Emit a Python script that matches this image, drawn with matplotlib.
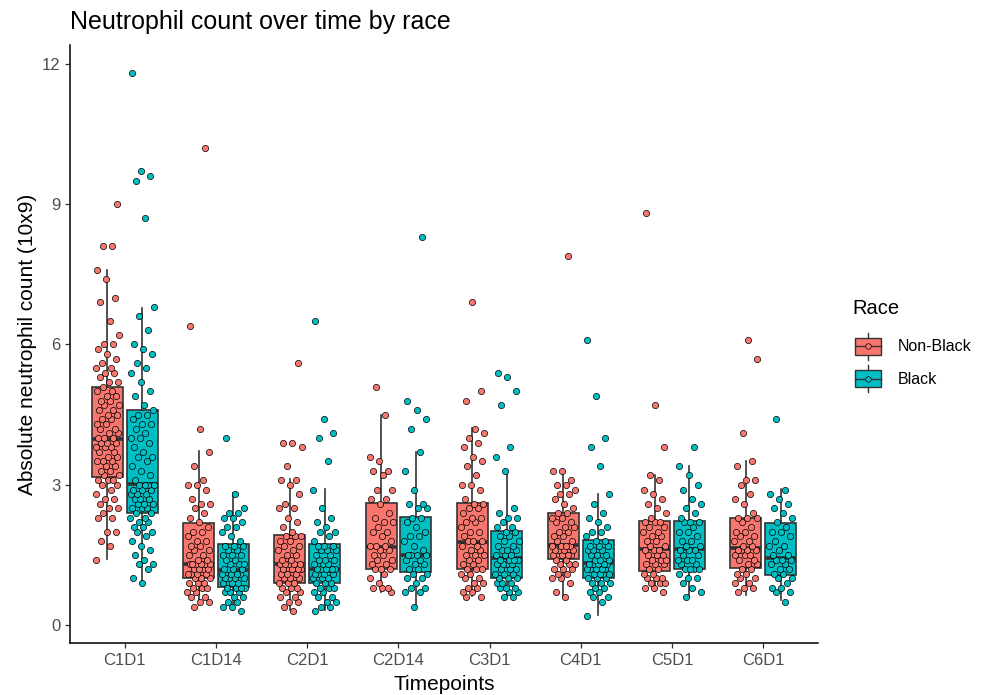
import matplotlib
matplotlib.use("Agg")
import matplotlib.pyplot as plt
import numpy as np
from matplotlib.legend_handler import HandlerBase
from matplotlib.patches import Rectangle, Patch
from matplotlib.lines import Line2D

plt.rcParams['font.family'] = ['Liberation Sans', 'DejaVu Sans']

timepoints = ['C1D1', 'C1D14', 'C2D1', 'C2D14', 'C3D1', 'C4D1', 'C5D1', 'C6D1']
races = ['Non-Black', 'Black']
race_colors = ['#F8766D', '#00BFC4']

# box statistics (per timepoint)
nb_q1 = [3.16, 1.01, 0.91, 1.21, 1.21, 1.41, 1.16, 1.23]
nb_med = [3.99, 1.30, 1.30, 1.67, 1.78, 1.72, 1.62, 1.64]
nb_q3 = [5.10, 2.19, 1.92, 2.61, 2.61, 2.40, 2.22, 2.30]
nb_lo = [1.41, 0.43, 0.33, 0.72, 0.62, 0.61, 0.73, 0.65]
nb_hi = [7.60, 3.72, 3.13, 4.50, 4.21, 3.34, 3.20, 3.50]

b_q1 = [2.39, 0.82, 0.91, 1.13, 1.01, 1.01, 1.21, 1.07]
b_med = [3.01, 1.18, 1.21, 1.51, 1.43, 1.32, 1.62, 1.43]
b_q3 = [4.61, 1.74, 1.74, 2.31, 2.01, 1.82, 2.22, 2.18]
b_lo = [0.92, 0.33, 0.33, 0.42, 0.62, 0.22, 0.61, 0.54]
b_hi = [6.79, 2.82, 2.91, 3.70, 3.32, 2.81, 3.41, 2.91]

# individual patient values (approximate, read from the jittered points)
nb_c1d1 = [1.4, 1.7, 1.8, 2.0, 2.0, 2.3, 2.3, 2.4, 2.5, 2.5, 2.6, 2.7, 2.7, 2.8, 2.9, 3.0, 3.0, 3.1, 3.1, 3.1, 3.2,
           3.2, 3.3, 3.3, 3.4, 3.4, 3.5, 3.5, 3.5, 3.6, 3.6, 3.7, 3.7, 3.8, 3.8, 3.8, 3.9, 3.9, 3.9, 4.0, 4.0, 4.0,
           4.1, 4.1, 4.2, 4.2, 4.3, 4.3, 4.4, 4.4, 4.5, 4.5, 4.6, 4.6, 4.7, 4.7, 4.8, 4.8, 4.9, 4.9, 5.0, 5.0, 5.1,
           5.2, 5.2, 5.3, 5.4, 5.4, 5.5, 5.5, 5.6, 5.7, 5.8, 5.9, 6.0, 6.0, 6.2, 6.5, 6.9, 7.0, 7.4, 7.6, 8.1, 8.1, 9.0]
nb_c1d14 = [0.4, 0.5, 0.5, 0.6, 0.6, 0.7, 0.7, 0.8, 0.8, 0.8, 0.9, 0.9, 0.9, 1.0, 1.0,
            1.0, 1.1, 1.1, 1.1, 1.1, 1.2, 1.2, 1.2, 1.2, 1.3, 1.3, 1.3, 1.3, 1.3, 1.3,
            1.4, 1.4, 1.5, 1.5, 1.6, 1.6, 1.7, 1.7, 1.8, 1.8, 1.9, 2.0, 2.0, 2.1, 2.2,
            2.3, 2.4, 2.5, 2.6, 2.6, 2.7, 2.9, 3.0, 3.0, 3.1, 3.4, 3.7, 4.2, 6.4, 10.2]
nb_c2d1 = [0.3, 0.4, 0.5, 0.5, 0.6, 0.6, 0.7, 0.7, 0.8, 0.8, 0.8, 0.9, 0.9, 0.9,
           1.0, 1.0, 1.0, 1.1, 1.1, 1.1, 1.2, 1.2, 1.2, 1.2, 1.3, 1.3, 1.3, 1.3,
           1.3, 1.4, 1.4, 1.5, 1.5, 1.6, 1.6, 1.7, 1.7, 1.8, 1.8, 1.9, 1.9, 1.9,
           2.0, 2.1, 2.2, 2.3, 2.5, 2.5, 2.6, 2.8, 3.0, 3.1, 3.1, 3.4, 3.8, 3.9, 3.9, 5.6]
nb_c2d14 = [0.7, 0.8, 0.8, 0.8, 0.9, 1.0, 1.1, 1.2, 1.2,
            1.2, 1.3, 1.3, 1.4, 1.4, 1.5, 1.5, 1.6, 1.6, 1.7, 1.7,
            1.7, 1.8, 1.9, 2.0, 2.0, 2.1, 2.2, 2.2, 2.3, 2.4, 2.6,
            2.7, 2.7, 2.9, 2.9, 3.2, 3.3, 3.3, 3.5, 3.6, 4.5, 5.1]
nb_c3d1 = [0.6, 0.6, 0.7, 0.7, 0.8, 0.8, 0.9, 0.9, 1.0, 1.0, 1.1, 1.1, 1.2, 1.2,
           1.2, 1.3, 1.3, 1.4, 1.4, 1.5, 1.5, 1.5, 1.6, 1.6, 1.7, 1.7, 1.8, 1.8,
           1.8, 1.9, 2.0, 2.0, 2.1, 2.2, 2.2, 2.3, 2.3, 2.4, 2.5, 2.5, 2.6, 2.6,
           2.7, 2.9, 3.0, 3.0, 3.2, 3.4, 3.5, 3.6, 3.8, 3.9, 4.0, 4.1, 4.2, 4.8, 5.0, 6.9]
nb_c4d1 = [0.6, 0.7, 0.9, 1.0, 1.0, 1.1, 1.1, 1.2, 1.2, 1.2, 1.3, 1.3, 1.3, 1.4,
           1.4, 1.5, 1.5, 1.5, 1.5, 1.6, 1.6, 1.6, 1.6, 1.7, 1.7, 1.7, 1.7,
           1.8, 1.8, 1.9, 1.9, 2.0, 2.0, 2.1, 2.1, 2.2, 2.2, 2.3, 2.3, 2.4, 2.4,
           2.5, 2.6, 2.7, 2.8, 2.8, 2.9, 3.0, 3.0, 3.1, 3.3, 3.3, 7.9]
nb_c5d1 = [0.7, 0.8, 0.8, 0.9, 0.9, 0.9, 1.0, 1.0, 1.0, 1.1, 1.1, 1.2,
           1.2, 1.3, 1.3, 1.3, 1.4, 1.4, 1.4, 1.5, 1.5, 1.5, 1.6, 1.6, 1.6,
           1.7, 1.7, 1.8, 1.8, 1.9, 1.9, 2.0, 2.0, 2.1, 2.1, 2.2, 2.2, 2.2,
           2.3, 2.4, 2.5, 2.6, 2.7, 2.8, 2.9, 3.1, 3.2, 3.8, 4.7, 8.8]
nb_c6d1 = [0.7, 0.8, 0.8, 0.9, 0.9, 1.0, 1.0, 1.1, 1.1, 1.2, 1.2,
           1.3, 1.3, 1.4, 1.4, 1.5, 1.5, 1.5, 1.6, 1.6, 1.6, 1.6,
           1.7, 1.7, 1.8, 1.8, 1.9, 1.9, 2.0, 2.0, 2.1, 2.2, 2.3, 2.3, 2.3,
           2.4, 2.6, 2.7, 2.8, 3.0, 3.1, 3.1, 3.4, 3.5, 4.1, 5.7, 6.1]

b_c1d1 = [0.9, 1.0, 1.2, 1.3, 1.3, 1.4, 1.5, 1.6, 1.7, 1.8, 1.9, 2.0, 2.0, 2.1, 2.1, 2.2, 2.2, 2.3, 2.3, 2.4,
          2.4, 2.5, 2.5, 2.5, 2.6, 2.6, 2.6, 2.7, 2.7, 2.7, 2.8, 2.8, 2.8, 2.9, 2.9, 2.9, 3.0, 3.0, 3.0, 3.0,
          3.1, 3.2, 3.3, 3.4, 3.5, 3.6, 3.6, 3.7, 3.8, 3.9, 4.0, 4.0, 4.1, 4.2, 4.3, 4.3, 4.4, 4.5, 4.5, 4.6,
          4.7, 4.9, 5.0, 5.2, 5.4, 5.5, 5.6, 5.8, 5.9, 6.0, 6.3, 6.6, 6.8, 8.7, 9.5, 9.6, 9.7, 11.8]
b_c1d14 = [0.3, 0.4, 0.4, 0.5, 0.5, 0.6, 0.6, 0.7, 0.7, 0.7, 0.8, 0.8, 0.8, 0.8,
           0.9, 0.9, 0.9, 1.0, 1.0, 1.0, 1.0, 1.1, 1.1, 1.1, 1.1, 1.2, 1.2, 1.2,
           1.2, 1.3, 1.3, 1.3, 1.4, 1.4, 1.5, 1.5, 1.5, 1.6, 1.6, 1.7, 1.7, 1.7,
           1.8, 1.9, 2.0, 2.1, 2.1, 2.2, 2.3, 2.3, 2.4, 2.4, 2.5, 2.8, 4.0]
b_c2d1 = [0.3, 0.4, 0.4, 0.5, 0.5, 0.6, 0.6, 0.7, 0.7, 0.8, 0.8, 0.8, 0.9, 0.9,
          0.9, 1.0, 1.0, 1.0, 1.1, 1.1, 1.1, 1.1, 1.2, 1.2, 1.2, 1.2, 1.2, 1.2,
          1.3, 1.3, 1.3, 1.4, 1.4, 1.4, 1.5, 1.5, 1.6, 1.6, 1.6, 1.7, 1.7, 1.7,
          1.8, 1.9, 2.0, 2.0, 2.1, 2.2, 2.3, 2.5, 2.9, 3.5, 4.0, 4.1, 4.4, 6.5]
b_c2d14 = [0.4, 0.7, 0.7, 0.8, 0.8, 0.9, 1.0, 1.0, 1.1, 1.1,
           1.2, 1.2, 1.3, 1.3, 1.4, 1.4, 1.5, 1.5, 1.5, 1.5,
           1.6, 1.7, 1.8, 1.9, 1.9, 2.0, 2.1, 2.2, 2.3, 2.3,
           2.5, 2.5, 2.6, 2.6, 2.9, 3.3, 3.7, 4.2, 4.4, 4.6, 4.8, 8.3]
b_c3d1 = [0.6, 0.6, 0.7, 0.7, 0.8, 0.8, 0.8, 0.9, 0.9, 0.9, 1.0, 1.0, 1.0,
          1.1, 1.1, 1.1, 1.2, 1.2, 1.2, 1.3, 1.3, 1.3, 1.3, 1.4, 1.4, 1.4, 1.4,
          1.5, 1.5, 1.5, 1.6, 1.6, 1.6, 1.7, 1.7, 1.8, 1.8, 1.9, 1.9, 2.0, 2.0,
          2.1, 2.1, 2.2, 2.3, 2.3, 2.4, 2.5, 3.3, 3.6, 3.8, 4.7, 5.0, 5.3, 5.4]
b_c4d1 = [0.2, 0.5, 0.6, 0.6, 0.7, 0.7, 0.8, 0.8, 0.9, 0.9, 0.9, 1.0, 1.0, 1.0,
          1.1, 1.1, 1.1, 1.1, 1.2, 1.2, 1.2, 1.2, 1.2, 1.3, 1.3, 1.3, 1.3, 1.3,
          1.4, 1.4, 1.4, 1.5, 1.5, 1.5, 1.6, 1.6, 1.6, 1.7, 1.7, 1.7, 1.8, 1.8,
          1.9, 2.0, 2.0, 2.1, 2.2, 2.3, 2.4, 2.6, 2.8, 3.4, 3.8, 4.0, 4.9, 6.1]
b_c5d1 = [0.6, 0.7, 0.8, 0.9, 1.0, 1.0, 1.1, 1.2, 1.2, 1.2, 1.2,
          1.3, 1.3, 1.4, 1.4, 1.4, 1.5, 1.5, 1.6, 1.6, 1.6,
          1.7, 1.7, 1.8, 1.8, 1.9, 2.0, 2.0, 2.1, 2.2, 2.2, 2.2,
          2.3, 2.4, 2.5, 2.6, 2.7, 2.9, 3.0, 3.2, 3.4, 3.8]
b_c6d1 = [0.5, 0.7, 0.7, 0.8, 0.8, 0.9, 1.0, 1.0, 1.1,
          1.1, 1.2, 1.2, 1.3, 1.3, 1.4, 1.4, 1.4,
          1.5, 1.5, 1.6, 1.7, 1.7, 1.8, 1.9, 2.0, 2.0, 2.1, 2.2,
          2.3, 2.4, 2.5, 2.6, 2.7, 2.8, 2.9, 4.4]

nb_points = [nb_c1d1, nb_c1d14, nb_c2d1, nb_c2d14, nb_c3d1, nb_c4d1, nb_c5d1, nb_c6d1]
b_points = [b_c1d1, b_c1d14, b_c2d1, b_c2d14, b_c3d1, b_c4d1, b_c5d1, b_c6d1]

edge = '#333333'


class BoxKeyHandler(HandlerBase):
    # legend key that looks like a tiny boxplot with a dot on it (sizes in points)
    def create_artists(self, legend, orig_handle, xdescent, ydescent,
                       width, height, fontsize, trans):
        x0, y0 = -xdescent, -ydescent
        fc = orig_handle.get_facecolor()
        cx, cy = x0 + width / 2, y0 + height / 2
        whisk = Line2D([cx, cx], [cy - 9.7, cy + 9.7], color=edge, lw=1.0, transform=trans)
        box = Rectangle((x0, cy - 6.1), width, 12.2,
                        facecolor=fc, edgecolor=edge, lw=1.0, transform=trans)
        med = Line2D([x0, x0 + width], [cy, cy], color=edge, lw=1.0, transform=trans)
        dot = Line2D([cx], [cy], marker='o', ms=4, mfc=fc, mec='black', mew=0.5,
                     linestyle='none', transform=trans)
        return [whisk, box, med, dot]


fig = plt.figure(figsize=(9.85, 6.95), dpi=100)
ax = fig.add_axes([70 / 985, 1 - 643 / 695, 748 / 985, 598 / 695])

x = np.arange(1, len(timepoints) + 1)
offsets = [-0.19, 0.19]
box_sets = [(nb_q1, nb_med, nb_q3, nb_lo, nb_hi), (b_q1, b_med, b_q3, b_lo, b_hi)]
point_sets = [nb_points, b_points]

for r in range(2):
    q1, med, q3, lo, hi = box_sets[r]
    stats = [dict(q1=q1[i], med=med[i], q3=q3[i], whislo=lo[i], whishi=hi[i], fliers=[])
             for i in range(len(timepoints))]
    ax.bxp(stats, positions=x + offsets[r], widths=0.34, patch_artist=True,
           showcaps=False, showfliers=False, manage_ticks=False,
           boxprops=dict(facecolor=race_colors[r], edgecolor=edge, linewidth=1.2),
           medianprops=dict(color=edge, linewidth=2.6),
           whiskerprops=dict(color=edge, linewidth=1.2))
    for i, vals in enumerate(point_sets[r]):
        n = len(vals)
        # spread points sideways with an even golden-ratio pattern (jitter)
        jit = ((np.arange(n) * 0.6180339887 + 0.31 * i + 0.5 * r) % 1 - 0.5) * 0.26
        ax.plot(x[i] + offsets[r] + jit, vals, 'o', ms=4.5, mfc=race_colors[r],
                mec='black', mew=0.5, zorder=4)

ax.set_xlim(0.4, 8.6)
ax.set_ylim(-0.38, 12.4)
ax.set_xticks(x)
ax.set_xticklabels(timepoints)
ax.set_yticks([0, 3, 6, 9, 12])
for s in ['top', 'right']:
    ax.spines[s].set_visible(False)
for s in ['left', 'bottom']:
    ax.spines[s].set_linewidth(1.1)
ax.tick_params(axis='both', length=3.5, width=0.9, color='#333333',
               labelcolor='#4D4D4D', labelsize=12, pad=3.5)

ax.set_xlabel('Timepoints', fontsize=15, labelpad=5)
ax.set_ylabel('Absolute neutrophil count (10x9)', fontsize=15, labelpad=3)
fig.text(70 / 985, 1 - 22 / 695, 'Neutrophil count over time by race',
         fontsize=18, ha='left', va='center')

fig.text(852 / 985, 1 - 309 / 695, 'Race', fontsize=14.5, ha='left', va='center')
handles = [Patch(facecolor=c) for c in race_colors]
fig.legend(handles, races, loc='upper left',
           bbox_to_anchor=(841 / 985, 1 - 321 / 695), frameon=False,
           handler_map={Patch: BoxKeyHandler()}, fontsize=11.5,
           handlelength=1.63, handleheight=1.69, labelspacing=0.7,
           handletextpad=1.0)

fig.savefig('out.png', dpi=100)
